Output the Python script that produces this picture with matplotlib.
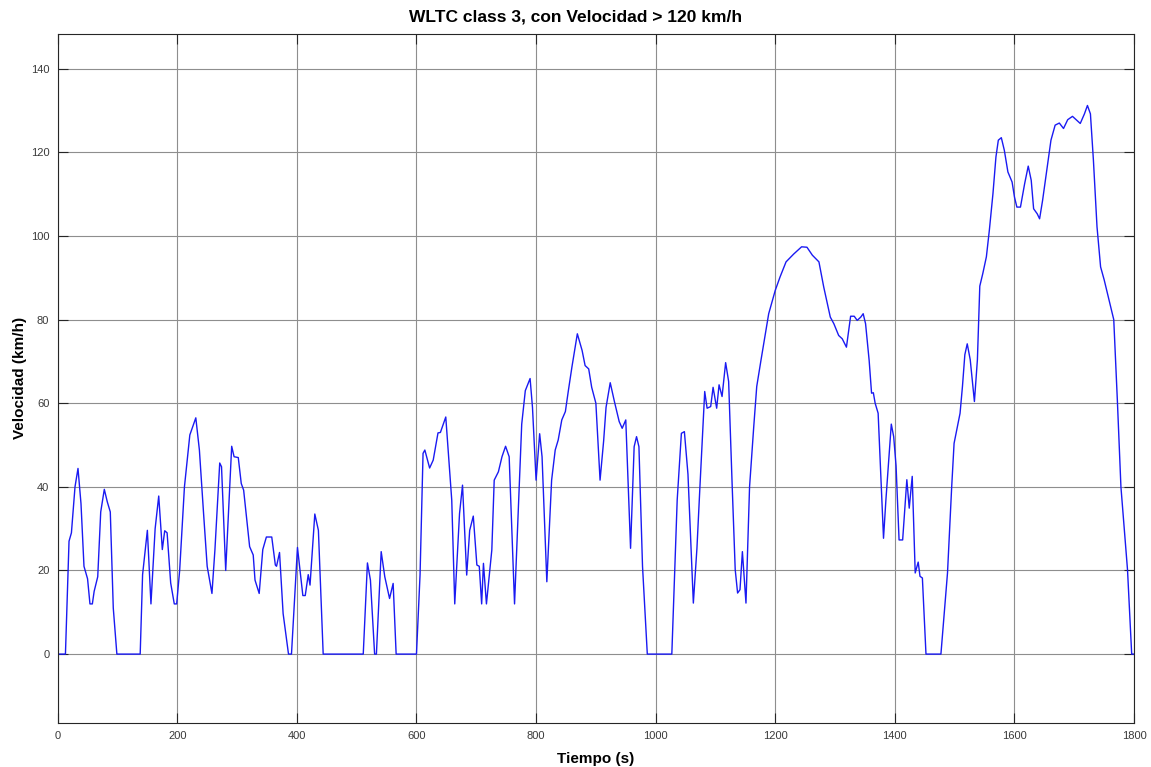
import matplotlib
matplotlib.use("Agg")
import matplotlib.pyplot as plt

# WLTC class 3 speed trace (time in s, speed in km/h)
tiempo = [
    0, 13, 19, 23, 29, 34, 39, 44, 50, 54, 58, 61, 67, 72, 78, 83, 88, 93, 99,
    138, 142, 150, 156, 163, 169, 175, 179, 183, 189, 195, 199, 204, 212, 221,
    231, 237, 244, 250, 254, 258, 263, 271, 274, 281, 291, 295, 302, 307, 311,
    321, 327, 330, 337, 343, 349, 358, 364, 366, 371, 377, 386, 391, 401, 410,
    414, 419, 422, 430, 436, 444, 511, 518, 523, 530, 533, 541, 547, 555, 561,
    566, 600, 606, 611, 614, 622, 628, 636, 640, 649, 659, 664, 672, 677, 684,
    689, 695, 701, 705, 709, 712, 717, 726, 730, 737, 743, 749, 755, 764, 776,
    782, 790, 794, 800, 806, 810, 818, 826, 832, 837, 843, 849, 854, 860, 869,
    877, 882, 888, 893, 900, 907, 913, 917, 924, 931, 939, 944, 950, 958, 964,
    968, 972, 978, 986, 1027, 1036, 1043, 1048, 1054, 1063, 1069, 1074, 1082,
    1086, 1092, 1096, 1102, 1106, 1111, 1117, 1122, 1128, 1133, 1137, 1141,
    1145, 1151, 1157, 1164, 1169, 1176, 1189, 1200, 1208, 1218, 1231, 1244,
    1253, 1262, 1273, 1281, 1292, 1298, 1306, 1312, 1319, 1326, 1332, 1337,
    1343, 1347, 1351, 1357, 1361, 1364, 1367, 1372, 1381, 1385, 1394, 1398,
    1402, 1407, 1413, 1420, 1424, 1429, 1434, 1439, 1442, 1446, 1452, 1477,
    1488, 1495, 1499, 1509, 1513, 1517, 1521, 1526, 1533, 1538, 1542, 1547,
    1553, 1558, 1564, 1569, 1573, 1578, 1583, 1589, 1596, 1600, 1604, 1610,
    1617, 1623, 1628, 1632, 1638, 1642, 1647, 1654, 1661, 1668, 1675, 1682,
    1689, 1697, 1703, 1710, 1717, 1722, 1727, 1732, 1738, 1744, 1750, 1758,
    1766, 1772, 1778, 1789, 1796, 1800,
]
velocidad = [
    0, 0, 27, 29, 40, 44.4, 36, 21, 18, 12, 12, 15, 18.5, 34, 39.4, 36.4, 34, 11, 0,
    0, 19, 29.6, 12, 30, 37.8, 25, 29.5, 29, 17, 12, 12, 20, 40, 52.4,
    56.5, 48.8, 33.6, 21, 17.7, 14.5, 25, 45.7, 44.8, 20, 49.7, 47.2, 47, 40.8, 39.2,
    25.7, 23.7, 17.7, 14.5, 25, 28, 28, 21.3, 21, 24.3, 9.7, 0, 0, 25.5, 14,
    14, 19, 16.5, 33.5, 29.6, 0, 0, 21.8, 17.7, 0, 0, 24.5, 18.5, 13.3, 16.9,
    0, 0, 19, 48, 48.8, 44.5, 46.4, 52.9, 53, 56.7, 36.8, 12, 33.6, 40.4, 18.9,
    29.6, 33, 21.3, 21, 12, 21.7, 12, 24.9, 41.6, 43.6, 47.2, 49.7, 47.2, 12, 55,
    63, 65.9, 59, 41.6, 52.7, 47.2, 17.3, 41.6, 48.8, 51.2, 56, 58, 63, 68.7, 76.6,
    72.6, 69, 68.2, 63.8, 60, 41.6, 51, 59, 64.9, 60.4, 55.6, 54, 56, 25.3, 49.6,
    52, 49.6, 21, 0, 0, 36.9, 52.8, 53.2, 43, 12.2, 25.3, 40, 62.8,
    58.8, 59.2, 63.8, 58.8, 64.4, 61.6, 69.7, 65.2, 40, 20.2, 14.6, 15.4,
    24.5, 12.2, 40, 54.4, 64, 70.2, 81.4, 87, 90.2, 93.8, 95.7, 97.4,
    97.3, 95.4, 93.8, 87.8, 80.6, 79, 76.2, 75.4, 73.4, 80.8, 80.8, 79.8,
    80.6, 81.4, 79, 70.2, 62.4, 62.5, 60, 57.6, 27.7, 36.9, 55, 52,
    45, 27.3, 27.3, 41.7, 34.9, 42.5, 19.4, 22, 18.6, 18.2, 0, 0,
    19.4, 40, 50.4, 57.6, 64, 71.6, 74.2, 70.4, 60.4, 70.4, 88, 91,
    95, 101.4, 110.1, 118.9, 122.9, 123.5, 120.5, 115.3, 112.9, 109.3, 106.9, 106.9,
    112.5, 116.7, 113.3, 106.5, 105.3, 104.1, 108.5, 115.7, 122.9, 126.5, 127, 125.7,
    127.8, 128.6, 127.8, 126.9, 129.2, 131.2, 129.2, 118.1, 102.2, 92.6, 89.5, 84.7,
    80, 60.8, 40, 20.2, 0, 0,
]

x_ticks = [0, 200, 400, 600, 800, 1000, 1200, 1400, 1600, 1800]
y_ticks = [0, 20, 40, 60, 80, 100, 120, 140]

plt.rcParams['font.family'] = ['Liberation Sans', 'DejaVu Sans']

fig = plt.figure(figsize=(11.51, 7.67), dpi=100)
ax = fig.add_axes([0.0501, 0.0578, 0.9352, 0.8979])

ax.plot(tiempo, velocidad, color=(0.1, 0.1, 0.95), linewidth=1.0)

ax.set_xlim(0, 1800)
ax.set_ylim(-16.4, 148.3)
ax.set_xticks(x_ticks)
ax.set_yticks(y_ticks)
ax.grid(True, color='#8e8e8e', linewidth=0.8)
ax.set_axisbelow(True)

ax.tick_params(direction='in', length=7.5, width=0.8, colors='#262626',
               labelsize=8, labelcolor='#3a3a3a', top=True, right=True, pad=6)
for s in ax.spines.values():
    s.set_color('#262626')
    s.set_linewidth(0.8)

ax.set_xlabel('Tiempo (s)', fontsize=11, fontweight='bold', labelpad=8)
ax.set_ylabel('Velocidad (km/h)', fontsize=11, fontweight='bold', labelpad=3)
fig.text(576 / 1151, 1 - 17 / 767, 'WLTC class 3, con Velocidad > 120 km/h',
         ha='center', va='center', fontsize=12.5, fontweight='bold')

fig.savefig('out.png', dpi=100, facecolor='white')
